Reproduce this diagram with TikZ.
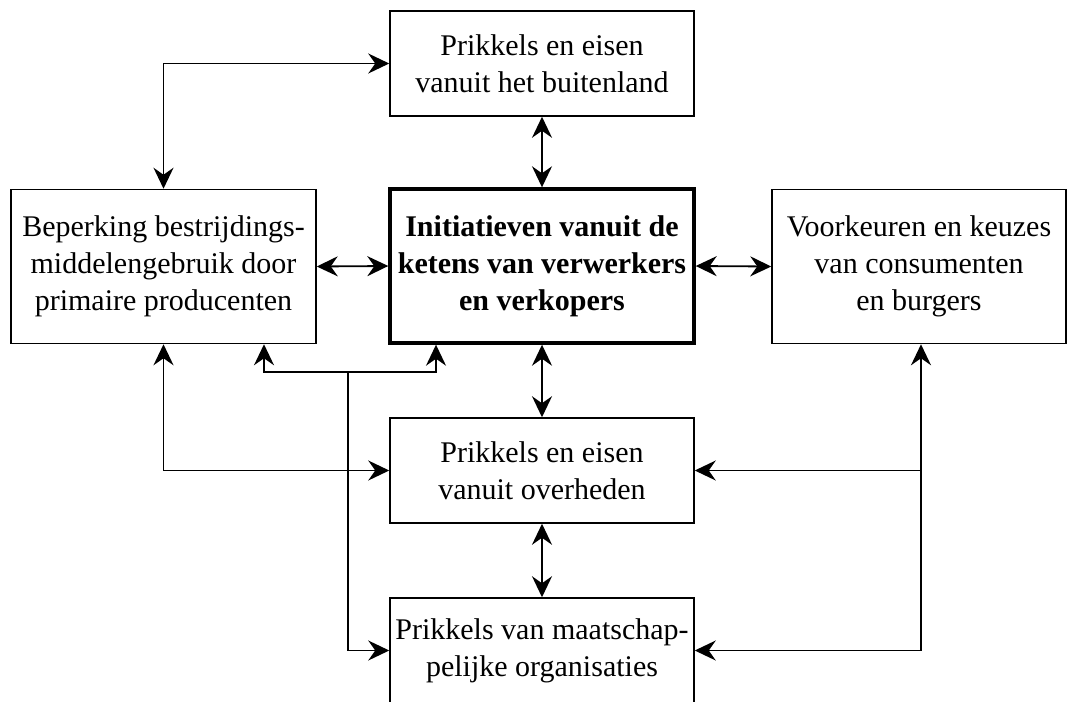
\documentclass[tikz,border=0pt]{standalone}
\usepackage{fontspec}
\setmainfont{Liberation Serif}
\usetikzlibrary{arrows.meta}

\begin{document}
\begin{tikzpicture}[x=1pt, y=-1pt]
  %
  \tikzset{
    blok/.style={draw, line width=1.5pt, minimum width=304pt, minimum height=105pt,
                 inner sep=0pt, align=center, font=\fontsize{30}{37}\selectfont},
    hoog/.style={minimum height=154pt},
    kern/.style={line width=3.4pt, font=\fontsize{30}{37}\selectfont\bfseries},
    pijl/.style={line width=1.8pt, -{Stealth[length=21pt, width=20pt, inset=7pt]}},
    dpijl/.style={line width=1.8pt, {Stealth[length=21pt, width=20pt, inset=7pt]}-{Stealth[length=21pt, width=20pt, inset=7pt]}},
  }
  \useasboundingbox (0, 0) rectangle (1067, 701);
  %
  %%% BOXES %%%
  \node[blok] (buitenland) at (542, 63.5) {Prikkels en eisen\\vanuit het buitenland};
  \node[blok, hoog, minimum width=305pt] (producenten) at (163.5, 266.5) {Beperking bestrijdings-\\middelengebruik door\\primaire producenten};
  \node[blok, hoog, kern] (ketens) at (542, 266) {Initiatieven vanuit de\\ketens van verwerkers\\en verkopers};
  \node[blok, hoog, minimum width=294pt] (consumenten) at (919, 266.5) {Voorkeuren en keuzes\\van consumenten\\en burgers};
  \node[blok] (overheden) at (542, 470.5) {Prikkels en eisen\\vanuit overheden};
  \node[blok] (organisaties) at (542, 650.5) {Prikkels van maatschap-\\pelijke organisaties};
  %
  %%% CONNECTORS %%%
  \draw[dpijl] (buitenland.west) -| (producenten.north);
  \draw[dpijl] (buitenland.south) -- (ketens.north);
  \draw[dpijl] (producenten.east) -- (ketens.west);
  \draw[dpijl] (ketens.east) -- (consumenten.west);
  \draw[dpijl] (ketens.south) -- (overheden.north);
  \draw[dpijl] (overheden.south) -- (organisaties.north);
  \draw[dpijl] (producenten.south) |- (overheden.west);
  %
  % Branch from the organisations to producers and chains
  \coordinate (splits) at (348, 372);
  \draw[pijl] (splits) |- (organisaties.west);
  \draw[pijl] (splits) -| ([xshift=100.5pt]producenten.south);
  \draw[pijl] (splits) -| ([xshift=-106pt]ketens.south);
  %
  % Branch from the consumers to governments and organisations
  \draw[dpijl] (organisaties.east) -| ([xshift=2pt]consumenten.south);
  \draw[pijl] ([xshift=2pt]consumenten.south |- overheden.east) -- (overheden.east);
\end{tikzpicture}
\end{document}
